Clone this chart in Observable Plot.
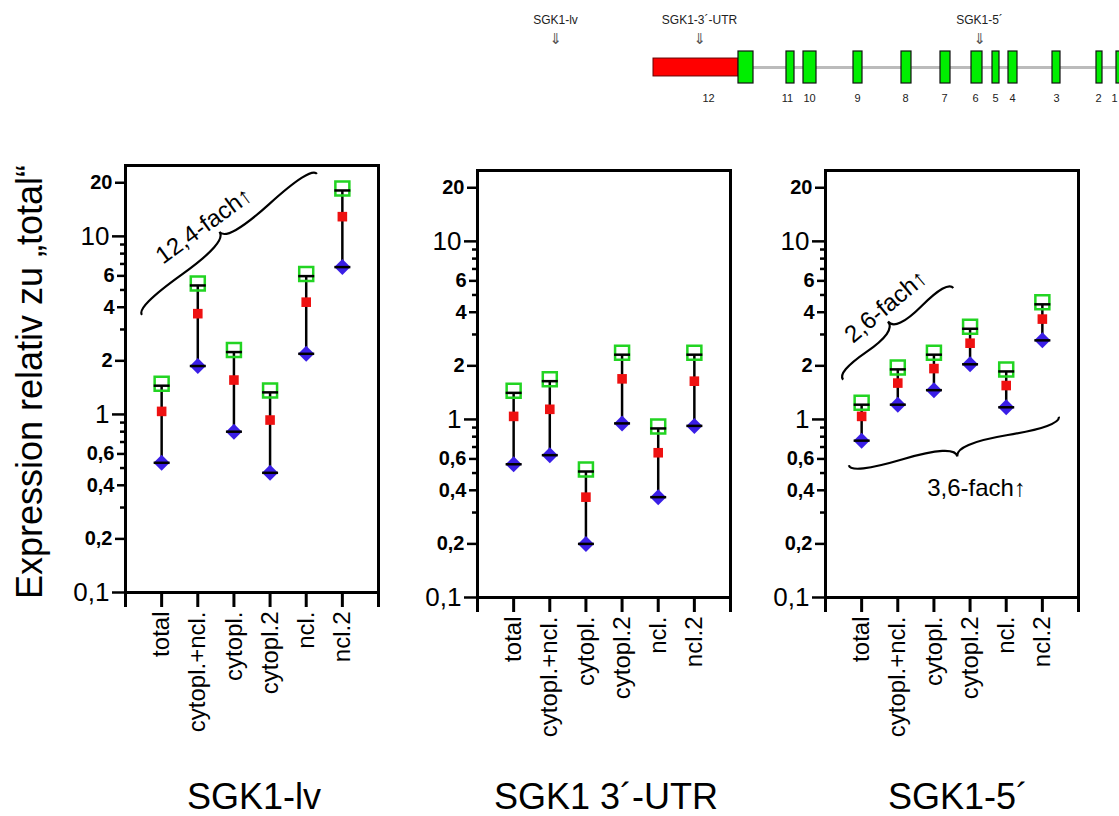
<!DOCTYPE html>
<html><head><meta charset="utf-8">
<script src="https://cdn.jsdelivr.net/npm/d3@7"></script>
<script src="https://cdn.jsdelivr.net/npm/@observablehq/plot@0.6"></script>
<style>
body{margin:0;background:#fff;font-family:"Liberation Sans",Arial,sans-serif;}
#root{position:relative;width:1119px;height:816px;overflow:hidden;background:#fff;}
.abs{position:absolute;}
.title{position:absolute;font-size:36px;line-height:30px;white-space:nowrap;transform:translateX(-50%);color:#000;}
.ylab{position:absolute;font-size:36px;line-height:36px;white-space:nowrap;transform:translate(-50%,-50%) rotate(-90deg);color:#000;}
</style></head><body><div id="root"></div><script>
// ---- data ----
const categories = ["total", "cytopl.+ncl.", "cytopl.", "cytopl.2", "ncl.", "ncl.2"];
const panelTitles = ["SGK1-lv", "SGK1 3´-UTR", "SGK1-5´"];
const yLabel = "Expression relativ zu „total“";

const lvMin  = [0.535, 1.87, 0.80, 0.47, 2.19, 6.72];
const lvMean = [1.04, 3.68, 1.56, 0.93, 4.27, 12.9];
const lvMax  = [1.45, 5.3, 2.24, 1.33, 5.98, 18.1];

const utrMin  = [0.56, 0.63, 0.20, 0.95, 0.366, 0.92];
const utrMean = [1.04, 1.14, 0.366, 1.69, 0.65, 1.64];
const utrMax  = [1.41, 1.64, 0.51, 2.31, 0.89, 2.31];

const p5Min  = [0.76, 1.21, 1.46, 2.04, 1.17, 2.78];
const p5Mean = [1.04, 1.60, 1.93, 2.68, 1.55, 3.66];
const p5Max  = [1.21, 1.91, 2.31, 3.23, 1.86, 4.43];

const decadeTicks = [0.1, 1, 10];
const twoTicks = [0.2, 2, 20];
const evenTicks = [0.4, 0.6, 4, 6];
const minorTicks = [0.3, 0.5, 0.7, 0.8, 0.9, 3, 5, 7, 8, 9];

// annotations (data coordinates: category index, expression value)
const lvBraces = [{x1: 0.47, y1: 3.6, x2: 5.31, y2: 22.3, side: -1}];
const lvNotes = [{x: 2.17, y: 11.5, label: "12,4-fach↑", angle: -36}];
const utrBraces = [];
const utrNotes = [];
const p5Braces = [
  {x1: 0.5, y1: 1.66, x2: 3.55, y2: 5.44, side: -1},
  {x1: 0.66, y1: 0.55, x2: 6.47, y2: 1.03, side: 1}
];
const p5Notes = [
  {x: 1.67, y: 4.32, label: "2,6-fach↑", angle: -40},
  {x: 4.18, y: 0.41, label: "3,6-fach↑", angle: 0}
];

// gene structure (relative genomic position units)
const exonNames = ["12", "11", "10", "9", "8", "7", "6", "5", "4", "3", "2", "1"];
const exonStart = [85, 133, 150, 200, 248, 287, 318, 339, 355, 399, 443, 463];
const exonEnd   = [100, 141, 163, 209, 258, 297, 329, 346, 364, 407, 449, 469];
const exonLabelPos = [55, 134, 156, 204, 252, 291, 322, 342, 359, 403, 445, 461];
const utrRegion = [0, 85];
const probeNames = ["SGK1-lv", "SGK1-3´-UTR", "SGK1-5´"];
const probePos = [-98, 46, 326];

// ---- helpers ----
const FONT = "'Liberation Sans', Arial, sans-serif";
const root = document.getElementById("root");
const fmt = d => String(d).replace(".", ",");
const square = {draw(ctx, size) { const r = Math.sqrt(size / Math.PI); ctx.rect(-r, -r, 2 * r, 2 * r); }};
const diamond = {draw(ctx, size) { const r = Math.sqrt(size / Math.PI); ctx.moveTo(0, -r); ctx.lineTo(r, 0); ctx.lineTo(0, r); ctx.lineTo(-r, 0); ctx.closePath(); }};
const hline = {draw(ctx, size) { const r = Math.sqrt(size / Math.PI); ctx.moveTo(-r, 0); ctx.lineTo(r, 0); }};

function bracePath(x1, y1, x2, y2, w, q) {
  let dx = x1 - x2, dy = y1 - y2;
  const len = Math.hypot(dx, dy);
  dx /= len; dy /= len;
  const qx1 = x1 + q * w * dy, qy1 = y1 - q * w * dx;
  const qx2 = (x1 - 0.25 * len * dx) + (1 - q) * w * dy, qy2 = (y1 - 0.25 * len * dy) - (1 - q) * w * dx;
  const tx = (x1 - 0.5 * len * dx) + w * dy, ty = (y1 - 0.5 * len * dy) - w * dx;
  const qx3 = x2 + q * w * dy, qy3 = y2 - q * w * dx;
  const qx4 = (x1 - 0.75 * len * dx) + (1 - q) * w * dy, qy4 = (y1 - 0.75 * len * dy) - (1 - q) * w * dx;
  return `M${x1},${y1}Q${qx1},${qy1} ${qx2},${qy2}T${tx},${ty}M${x2},${y2}Q${qx3},${qy3} ${qx4},${qy4}T${tx},${ty}`;
}
function braceMark(b) {
  return (index, scales) => {
    const p = document.createElementNS("http://www.w3.org/2000/svg", "path");
    p.setAttribute("d", bracePath(scales.x(b.x1), scales.y(b.y1), scales.x(b.x2), scales.y(b.y2), 16 * b.side, 0.6));
    p.setAttribute("fill", "none");
    p.setAttribute("stroke", "black");
    p.setAttribute("stroke-width", 2.2);
    return p;
  };
}

const ML = 60, MR = 12, MT = 10, MB = 150, FW = 253, FH = 427;

function yTicks(ticks, size) {
  return Plot.axisY({ticks, tickFormat: () => "", label: null, tickSize: size, strokeWidth: 2.5, stroke: "black"});
}
function yLabels(ticks, size, o) {
  return Plot.text(ticks, {y: d => d, text: fmt, frameAnchor: "left", textAnchor: "end", dx: -(size + 3), fill: "black", ...o});
}

function panel(mins, means, maxs, braces, notes, left, top) {
  const data = categories.map((c, i) => ({x: i + 1, lo: mins[i], mid: means[i], hi: maxs[i]}));
  const chart = Plot.plot({
    width: ML + FW + MR, height: MT + FH + MB,
    marginLeft: ML, marginRight: MR, marginTop: MT, marginBottom: MB,
    style: {fontFamily: FONT, background: "transparent", overflow: "visible", color: "black"},
    x: {type: "linear", domain: [0, 7]},
    y: {type: "log", domain: [0.1, 25]},
    marks: [
      Plot.frame({stroke: "black", strokeWidth: 3}),
      Plot.axisX({ticks: d3.range(0, 8), tickFormat: d => categories[d - 1] ?? "", tickRotate: -90,
        tickSize: 15, tickPadding: 4, fontSize: 24, strokeWidth: 3, label: null, fill: "black"}),
      yTicks(decadeTicks, 13),
      yTicks(twoTicks, 10),
      yTicks(evenTicks, 8),
      yTicks(minorTicks, 5),
      yLabels(decadeTicks, 13, {fontSize: 26}),
      yLabels(twoTicks, 10, {fontSize: 20, fontWeight: "bold"}),
      yLabels(evenTicks, 8, {fontSize: 20, fontWeight: "bold"}),
      Plot.ruleX(data, {x: "x", y1: "lo", y2: "hi", stroke: "black", strokeWidth: 2.5}),
      Plot.dot(data, {x: "x", y: "hi", symbol: square, r: 7, stroke: "#22d422", strokeWidth: 2.5, fill: "none", dy: -2}),
      Plot.dot(data, {x: "x", y: "mid", symbol: square, r: 4.8, fill: "#ee1111", stroke: "none"}),
      Plot.dot(data, {x: "x", y: "lo", symbol: diamond, r: 8, fill: "#3a1ee6", stroke: "none"}),
      Plot.dot(data, {x: "x", y: "hi", symbol: hline, r: 8, stroke: "black", strokeWidth: 2.5, fill: "none"}),
      Plot.dot(data, {x: "x", y: "lo", symbol: hline, r: 8, stroke: "black", strokeWidth: 2.5, fill: "none"}),
      ...braces.map(braceMark),
      Plot.text(notes, {x: "x", y: "y", text: "label", rotate: "angle", fontSize: 24, fill: "black"})
    ]
  });
  chart.classList.add("abs");
  chart.style.left = (left - ML) + "px";
  chart.style.top = (top - MT) + "px";
  root.appendChild(chart);
}

panel(lvMin, lvMean, lvMax, lvBraces, lvNotes, 125, 165);
panel(utrMin, utrMean, utrMax, utrBraces, utrNotes, 477, 170);
panel(p5Min, p5Mean, p5Max, p5Braces, p5Notes, 825, 170);

// gene structure diagram
const exons = exonNames.map((n, i) => ({name: n, start: exonStart[i], end: exonEnd[i], mid: exonLabelPos[i]}));
const probes = probeNames.map((n, i) => ({name: n, pos: probePos[i]}));
const gene = Plot.plot({
  width: 599, height: 105, margin: 0,
  style: {fontFamily: FONT, background: "transparent", overflow: "visible"},
  x: {domain: [-133, 466], axis: null},
  y: {domain: [-1, 1], range: [83, 51], axis: null},
  marks: [
    Plot.ruleY([0], {x1: exonEnd[0], x2: 480, stroke: "#bbbbbb", strokeWidth: 3}),
    Plot.rect([{a: utrRegion[0], b: utrRegion[1]}], {x1: "a", x2: "b", y1: -0.56, y2: 0.56, fill: "#ff0000", stroke: "#660000", strokeWidth: 1}),
    Plot.rect(exons, {x1: "start", x2: "end", y1: -1, y2: 1, fill: "#00ee00", stroke: "#111", strokeWidth: 1.2}),
    Plot.text(exons, {x: "mid", y: -1, dy: 15, text: "name", fontSize: 11, fill: "#222"}),
    Plot.text(probes, {x: "pos", y: 1, dy: -31, text: "name", fontSize: 12, fill: "#222"}),
    Plot.text(probes, {x: "pos", y: 1, dy: -12, text: () => "⇓", fontSize: 15, fill: "#555", fontFamily: "DejaVu Sans"})
  ]
});
gene.classList.add("abs");
gene.style.left = "520px";
gene.style.top = "0px";
root.appendChild(gene);

// titles and y label
const titleX = [254, 606, 958];
panelTitles.forEach((t, i) => {
  const d = document.createElement("div");
  d.className = "title";
  d.textContent = t;
  d.style.left = titleX[i] + "px";
  d.style.top = "782px";
  root.appendChild(d);
});
const yl = document.createElement("div");
yl.className = "ylab";
yl.textContent = yLabel;
yl.style.left = "30px";
yl.style.top = "382px";
root.appendChild(yl);
</script></body></html>
